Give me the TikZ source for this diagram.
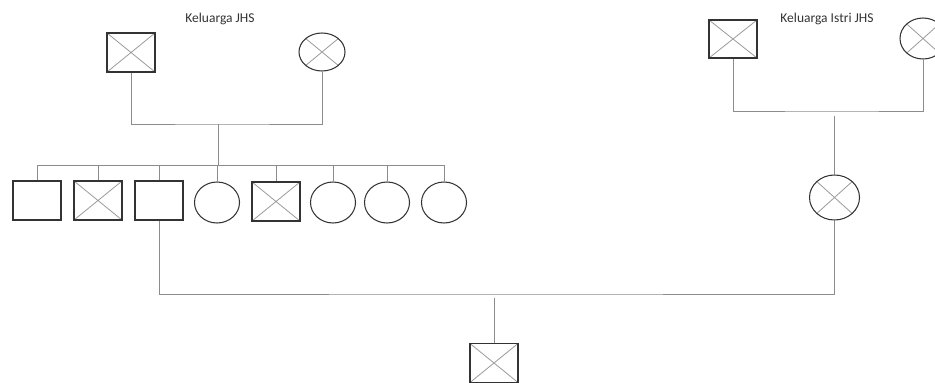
\documentclass[tikz,border=0pt]{standalone}
\usepackage{fontspec}
\setmainfont{Carlito}
\usetikzlibrary{shapes.geometric}
\definecolor{outline}{HTML}{333333}
\definecolor{wire}{HTML}{8C8C8C}
\definecolor{crossline}{HTML}{9A9A9A}
\tikzset{
  x=1pt, y=-1pt,
  male/.style={rectangle, draw=outline, line width=1.05pt, minimum width=48pt, minimum height=39pt, inner sep=0pt},
  female/.style={ellipse, draw=outline, line width=1.05pt, minimum width=46pt, minimum height=41pt, inner sep=0pt},
  crossed/.style={path picture={
    \draw[crossline, line width=0.8pt]
      (path picture bounding box.north west) -- (path picture bounding box.south east)
      (path picture bounding box.south west) -- (path picture bounding box.north east);}},
  link/.style={draw=wire, line width=0.9pt},
  caption/.style={font=\fontsize{13.5}{15}\selectfont, text=black!80}
}
\begin{document}
\begin{tikzpicture}
\useasboundingbox (0,0) rectangle (935,383);

% Husband's parents
\node[caption] (capL) at (220,19) {Keluarga JHS};
\node[male, crossed] (gfL) at (131,52.5) {};
\node[female, crossed, minimum height=38pt] (gmL) at (322,52) {};
\coordinate (mL) at (218,124);
\draw[link] (gfL.south) |- (mL) -| (gmL.south);

% Siblings
\node[male] (c1) at (37,200.5) {};
\node[male, crossed] (c2) at (98,200.5) {};
\node[male] (c3) at (159,200.5) {};
\node[female, minimum width=45pt] (c4) at (217,202.5) {};
\node[male, crossed] (c5) at (276,201.5) {};
\node[female, minimum width=45pt] (c6) at (333,202.5) {};
\node[female, minimum width=45pt] (c7) at (387,202.5) {};
\node[female, minimum width=45pt] (c8) at (444,202.5) {};
\coordinate (sibL) at (37,165);
\coordinate (sibR) at (444,165);
\coordinate (sibM) at (218,165);
\draw[link] (mL) -- (sibM);
\draw[link] (sibL) -- (sibR);
\foreach \c in {c1,c2,c3,c4,c5,c6,c7,c8}
  \draw[link] (\c.north) -- (\c.north |- sibL);

% Wife's parents
\node[caption] (capR) at (827,19) {Keluarga Istri JHS};
\node[male, crossed, minimum height=38pt] (gfR) at (733,39) {};
\node[female, crossed] (gmR) at (923,38.5) {};
\draw[link] (gfR.south) |- (835,111) -| (gmR.south);

% Wife
\node[female, crossed, minimum width=50pt, minimum height=45pt] (wife) at (834.5,197.5) {};
\coordinate (wTop) at (834.5,115.5);
\draw[link] (wTop) -- (wife.north);

% Marriage and child
\coordinate (mar) at (495,294);
\draw[link] (c3.south) |- (mar) -| (wife.south);
\node[male, crossed] (kid) at (494,363) {};
\coordinate (kTop) at (494,297.5);
\draw[link] (kTop) -- (kid.north);
\end{tikzpicture}
\end{document}
